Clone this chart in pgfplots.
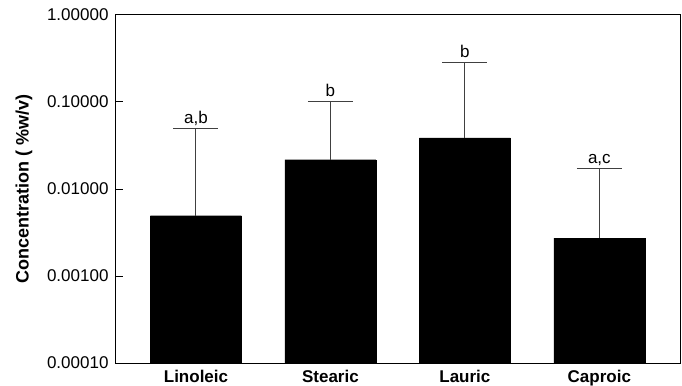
\documentclass[border=0pt]{standalone}
\usepackage{fontspec}
\setmainfont{Liberation Sans}
\usepackage{pgfplots}
\pgfplotsset{compat=1.18}
\newcommand{\fs}{\fontsize{17bp}{20bp}\selectfont}
\begin{document}
\begin{tikzpicture}
\useasboundingbox (-116bp,-23bp) rectangle (566bp,363bp);
\begin{axis}[
 at={(0,0)}, anchor=south west,
 scale only axis, width=564bp, height=348bp,
 ymode=log, ymin=1e-4, ymax=1, log origin y=infty,
 xmin=-0.595, xmax=3.6,
 xtick={0,1,2,3}, xticklabels={Linoleic,Stearic,Lauric,Caproic},
 ytick={1e-4,1e-3,1e-2,1e-1,1},
 yticklabels={0.00010,0.00100,0.01000,0.10000,1.00000},
 yminorticks=false,
 ytick pos=left, tick align=inside, major tick length=7bp,
 xtick style={draw=none},
 axis line style={line width=1bp},
 every tick/.style={line width=1bp, black},
 /pgf/number format/assume math mode=true,
 tick label style={font=\fs},
 label style={font=\fontsize{18bp}{20bp}\selectfont\bfseries},
 yticklabel style={xshift=-4bp},
 xticklabel style={anchor=base, yshift=-19bp, font=\fs\bfseries},
 ylabel={Concentration ( \%w/v)},
 ylabel style={at={(axis description cs:-0.163,0.5)}, anchor=center},
 clip=false,
]
\addplot[ybar, bar width=91bp, bar shift=0pt, fill=black, draw=black,
  error bars/.cd, y dir=plus, y explicit,
  error bar style={line width=1bp, color=black!75},
  error mark options={rotate=90, mark size=22.5bp, line width=1bp, color=black!75}]
 table[x=x, y=y, y error=e] {
 x y e
 0 0.00493 0.0448
 1 0.0217 0.0799
 2 0.0386 0.244
 3 0.00273 0.0144
};
\addplot[draw=none, mark=none, nodes near coords, point meta=explicit symbolic,
  nodes near coords style={anchor=base, yshift=5bp, font=\fs}]
 table[x=x, y=y, meta=l] {
 x y l
 0 0.0497 a,b
 1 0.1016 b
 2 0.283 b
 3 0.0171 a,c
};
\end{axis}
\end{tikzpicture}
\end{document}
